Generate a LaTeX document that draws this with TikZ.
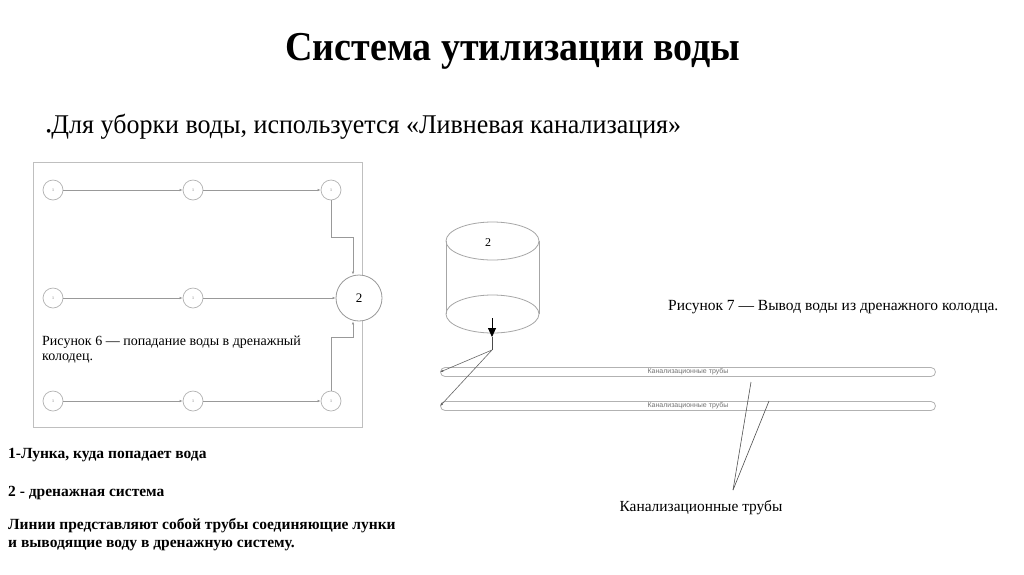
\documentclass[tikz,border=0pt]{standalone}
\usepackage{fontspec}
\setmainfont{Liberation Serif}
\newfontfamily\pipefont{Liberation Sans}
\usetikzlibrary{arrows.meta}
\begin{document}
\begin{tikzpicture}[x=1pt,y=-1pt,
  frame/.style={draw=black!25,line width=0.9pt},
  hole/.style={circle,draw=black!30,line width=0.7pt,minimum size=20pt,inner sep=0pt,font=\fontsize{4}{5}\selectfont\color{black!60}},
  well/.style={circle,draw=black!40,line width=0.8pt,minimum size=46pt,inner sep=0pt,font=\fontsize{13}{15}\selectfont},
  flow/.style={draw=black!40,line width=0.8pt,-{Latex[length=3pt,width=2.5pt]}},
  pipe/.style={draw=black!30,line width=0.8pt,rounded corners=4.5pt,minimum height=9pt,minimum width=495pt,inner sep=0pt,font=\pipefont\fontsize{7}{8}\selectfont\color{black!55}},
  lead/.style={draw=black!70,line width=0.6pt},
  captext/.style={font=\fontsize{14}{15.5}\selectfont,align=left,inner sep=0pt},
  legend/.style={font=\bfseries\fontsize{15.5}{17}\selectfont,anchor=base west,inner sep=0pt}
]
\useasboundingbox (0,0) rectangle (1024,574);
\fill[white] (0,0) rectangle (1024,574);

% title & bullet
\node[inner sep=0pt,anchor=base] (title) at (513,60) {\scalebox{1}[1.08]{\bfseries\fontsize{38}{44}\selectfont Система утилизации воды}};
\node[inner sep=0pt,anchor=base west] (bullet) at (46,133) {\scalebox{1}[1.04]{\fontsize{26}{30}\selectfont\raisebox{-3pt}{\fontsize{15}{15}\selectfont\textbullet}Для уборки воды, используется «Ливневая канализация»}};

% left figure
\draw[frame] (33,162) rectangle (362,427);
\node[hole] (a1) at (53,190) {1};
\node[hole] (a2) at (193,190) {1};
\node[hole] (a3) at (331,190) {1};
\node[hole] (b1) at (53,298) {1};
\node[hole] (b2) at (193,298) {1};
\node[hole] (c1) at (53,401) {1};
\node[hole] (c2) at (193,401) {1};
\node[hole] (c3) at (331,401) {1};
\node[well,fill=white] (w) at (359,298) {2};
\coordinate (k1) at (331,237);
\coordinate (k2) at (353,237);
\coordinate (m1) at (331,337);
\coordinate (m2) at (353,337);
\draw[flow] (a1) -- (a2);
\draw[flow] (a2) -- (a3);
\draw[flow] (b1) -- (b2);
\draw[flow] (b2) -- (w);
\draw[flow] (c1) -- (c2);
\draw[flow] (c2) -- (c3);
\draw[flow] (a3) -- (k1) -- (k2) -- (k2 |- w.north);
\draw[flow] (c3) -- (m1) -- (m2) -- (m2 |- w.south);
\node[captext,anchor=north west] (cap6) at (42,335.5) {Рисунок 6 — попадание воды в дренажный\\колодец.};

% right figure: cylinder
\draw[draw=black!35,line width=0.8pt] (446,241) -- (446,314) (539,241) -- (539,314);
\draw[draw=black!35,line width=0.8pt] (492.5,241) ellipse [x radius=46.5,y radius=19];
\draw[draw=black!35,line width=0.8pt] (492.5,314) ellipse [x radius=46.5,y radius=19];
\node[font=\fontsize{12}{14}\selectfont] (cyl) at (488,243) {2};
\coordinate (outtop) at (492,318);
\coordinate (split) at (492,350);
\draw[black,line width=0.8pt,-{Triangle[length=9pt,width=8pt]}] (outtop) -- (492,337);
\draw[black!70,line width=0.7pt] (492,337) -- (split);

\node[pipe] (p1) at (688,372) {Канализационные трубы};
\node[pipe] (p2) at (688,406) {Канализационные трубы};
\draw[black!60,line width=0.6pt,-{Latex[length=3pt,width=2.5pt]}] (split) -- (p1.west);
\draw[black!60,line width=0.6pt,-{Latex[length=3pt,width=2.5pt]}] (split) -- (p2.west);

\node[captext,anchor=base west] (cap7) at (668,310) {\fontsize{15.5}{17}\selectfont Рисунок 7 — Вывод воды из дренажного колодца.};

\node[font=\fontsize{15.4}{17}\selectfont,inner sep=0pt] (pl) at (701,508) {Канализационные трубы};
\coordinate (conv) at (733,490);
\draw[lead] (conv) -- (751,382);
\draw[lead] (conv) -- (769,401);

% legend
\node[legend] (l1) at (8,458) {1-Лунка, куда попадает вода};
\node[legend] (l2) at (8,496) {2 - дренажная система};
\node[legend] (l3) at (8,529) {Линии представляют собой трубы соединяющие лунки};
\node[legend] (l4) at (8,547) {и выводящие воду в дренажную систему.};
\end{tikzpicture}
\end{document}
